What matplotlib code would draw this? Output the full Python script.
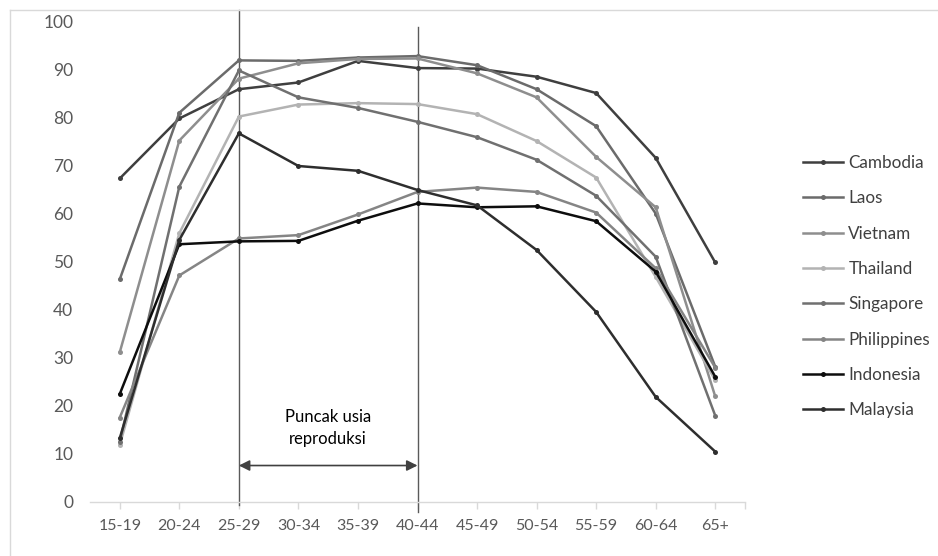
import matplotlib
matplotlib.use("Agg")
import matplotlib.pyplot as plt
from matplotlib.lines import Line2D

plt.rcParams['font.family'] = ['Lato', 'DejaVu Sans']

age_groups = ["15-19", "20-24", "25-29", "30-34", "35-39", "40-44",
              "45-49", "50-54", "55-59", "60-64", "65+"]

cambodia = [67.4, 79.9, 86.0, 87.4, 91.9, 90.4, 90.3, 88.6, 85.2, 71.7, 49.9]
laos = [46.4, 81.1, 92.0, 91.9, 92.6, 92.9, 91.0, 86.0, 78.3, 60.1, 28.2]
vietnam = [31.2, 75.3, 88.2, 91.4, 92.3, 92.4, 89.3, 84.3, 71.9, 61.4, 22.0]
thailand = [11.9, 56.0, 80.3, 82.8, 83.1, 82.9, 80.8, 75.2, 67.6, 46.9, 25.4]
singapore = [12.6, 65.7, 89.9, 84.3, 82.1, 79.2, 76.0, 71.3, 63.8, 51.1, 18.0]
philippines = [17.6, 47.2, 54.9, 55.6, 59.9, 64.6, 65.5, 64.6, 60.3, 48.7, 28.0]
indonesia = [22.5, 53.7, 54.3, 54.4, 58.6, 62.2, 61.4, 61.6, 58.5, 48.0, 26.1]
malaysia = [13.3, 54.6, 76.8, 70.0, 69.0, 65.0, 61.8, 52.5, 39.6, 21.9, 10.5]

series_names = ["Cambodia", "Laos", "Vietnam", "Thailand", "Singapore",
                "Philippines", "Indonesia", "Malaysia"]
series_values = [cambodia, laos, vietnam, thailand, singapore,
                 philippines, indonesia, malaysia]
series_colors = ["#3f3f3f", "#6b6b6b", "#8e8e8e", "#b3b3b3", "#707070",
                 "#858585", "#0d0d0d", "#2e2e2e"]

W, H = 938, 556
fig = plt.figure(figsize=(W / 100, H / 100), dpi=100)
ax = fig.add_axes([90 / W, (H - 502) / H, (745 - 90) / W, (502 - 22) / H])

x = list(range(len(age_groups)))
for name, vals, col in zip(series_names, series_values, series_colors):
    ax.plot(x, vals, color=col, lw=1.8, marker='o', markersize=3.6,
            markeredgewidth=0, label=name, clip_on=False, zorder=3)

ax.set_xlim(-0.5, 10.5)
ax.set_ylim(0, 100)
ax.set_yticks(range(0, 101, 10))
ax.set_xticks(x)
ax.set_xticklabels(age_groups)
ax.set_xticks([10.5], minor=True)

for s in ["top", "right", "left"]:
    ax.spines[s].set_visible(False)
ax.spines["bottom"].set_color("#d9d9d9")
ax.spines["bottom"].set_linewidth(1.0)
ax.tick_params(axis='y', length=0, pad=12, labelsize=12.5, labelcolor="#595959")
ax.tick_params(axis='x', which='both', length=5, color="#d9d9d9", width=1,
               pad=7, labelsize=11.5, labelcolor="#595959")

# vertical marker lines for the reproductive peak
ax.plot([2, 2], [102.5, -0.6], color="#5a5a5a", lw=1.0, clip_on=False, zorder=2)
ax.plot([5, 5], [99.0, -2.1], color="#5a5a5a", lw=1.0, clip_on=False, zorder=2)

ax.annotate("", xy=(2, 7.6), xytext=(5, 7.6),
            arrowprops=dict(arrowstyle='<|-|>', color="#404040", lw=1.2,
                            mutation_scale=16, shrinkA=0, shrinkB=0))
ax.text(3.5, 15.4, "Puncak usia\nreproduksi", ha='center', va='center',
        fontsize=12, color="#000000", linespacing=1.45)

leg = ax.legend(loc='upper left', bbox_to_anchor=(803 / W, (H - 155) / H),
                bbox_transform=fig.transFigure, frameon=False, fontsize=12.3,
                handlelength=2.35, handletextpad=0.3, labelspacing=1.13,
                borderaxespad=0, borderpad=0)
for t in leg.get_texts():
    t.set_color("#404040")

# chart-area border (top and left edges visible in the crop)
fig.lines.append(Line2D([9.5 / W, 9.5 / W], [0, (H - 9.5) / H],
                        transform=fig.transFigure, color="#d9d9d9", lw=1.0))
fig.lines.append(Line2D([9.5 / W, 1], [(H - 9.5) / H, (H - 9.5) / H],
                        transform=fig.transFigure, color="#d9d9d9", lw=1.0))

fig.savefig("out.png", dpi=100)
